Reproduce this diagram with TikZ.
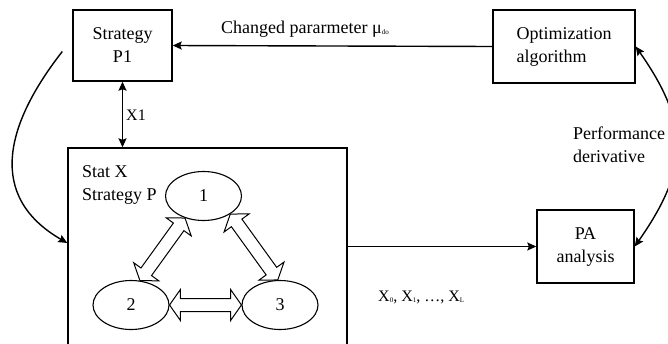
\documentclass[tikz,border=0pt]{standalone}
\usepackage{fontspec}
\setmainfont{Liberation Serif}
\usetikzlibrary{shapes.geometric,shapes.arrows,arrows.meta,calc}
\newcommand{\sbs}[1]{\raisebox{-1.5pt}{\fontsize{7}{7}\selectfont #1}}
\begin{document}
\begin{tikzpicture}[x=1pt,y=1pt,
  font=\fontsize{18}{23}\selectfont,
  box/.style={draw, line width=1.4pt, inner sep=0pt},
  conn/.style={line width=1.4pt},
  tip/.style={-{Stealth[length=9pt,width=8pt,inset=1.5pt]}},
  dtip/.style={{Stealth[length=9pt,width=8pt,inset=1.5pt]}-{Stealth[length=9pt,width=8pt,inset=1.5pt]}},
  txt/.style={inner sep=0pt},
  st/.style={ellipse, draw, line width=1.1pt, minimum width=76pt, minimum height=49pt, inner sep=0pt},
  dblarr/.style={double arrow, draw, line width=1pt, fill=white, inner xsep=0pt, inner ysep=6pt,
    text height=0pt, text depth=0pt, text width=0pt, double arrow head extend=9pt,
    double arrow tip angle=110}
]
\clip (0,0) rectangle (668,-343);
% boxes
\node[box, minimum width=99pt, minimum height=71pt, align=center] (p1) at (122.5,-45.5) {Strategy\\P1};
\node[box, minimum width=142pt, minimum height=73pt, align=left] (opt) at (564,-46.5) {Optimization\\algorithm};
\node[box, minimum width=97pt, minimum height=73pt, align=center] (pa) at (585.5,-246.5) {PA\\analysis};
\node[box, minimum width=279pt, minimum height=230pt] (big) at (207.5,-263) {};
\node[txt, anchor=west, align=left] (sx) at (82,-185) {Stat X\\Strategy P};
% states
\node[st] (e1) at (203.5,-196) {1};
\node[st] (e2) at (131,-305) {2};
\node[st] (e3) at (280,-305) {3};
% hollow double arrows
\path let \p1=(e1.230), \p2=(e2.70), \n1={atan2(\y1-\y2,\x1-\x2)}, \n2={veclen(\x1-\x2,\y1-\y2)} in
  node[dblarr, minimum height=\n2, rotate=\n1] (a12) at ($(\p1)!0.5!(\p2)$) {};
\path let \p1=(e1.326), \p2=(e3.95), \n1={atan2(\y1-\y2,\x1-\x2)}, \n2={veclen(\x1-\x2,\y1-\y2)} in
  node[dblarr, minimum height=\n2, rotate=\n1] (a13) at ($(\p1)!0.5!(\p2)$) {};
\path let \p1=(e2.east), \p2=(e3.west), \n1={atan2(\y1-\y2,\x1-\x2)}, \n2={veclen(\x1-\x2,\y1-\y2)} in
  node[dblarr, minimum height=\n2, rotate=\n1] (a23) at ($(\p1)!0.5!(\p2)$) {};
% connectors
\draw[conn,tip] (opt.west) -- (p1.east);
\node[txt, anchor=west] (lab) at (221,-29) {Changed pararmeter μ\sbs{do}};
\draw[conn,dtip] (p1.south) -- (p1.south |- big.north);
\node[txt, anchor=west, font=\fontsize{16}{18}\selectfont] (x1) at (126,-115) {X1};
\draw[conn,tip] (big.east |- pa.west) -- (pa.west);
\node[txt, anchor=west, font=\fontsize{16}{18}\selectfont] (xs) at (378,-297) {X\sbs{0}, X\sbs{1}, \dots, X\sbs{L}};
\coordinate (ls) at ($(p1.west)+(-10,-6)$);
\draw[conn,tip] (ls) .. controls +(232:93) and +(150:93) .. ($(big.west |- 0,-243)$);
\draw[conn,dtip] (pa.east) .. controls +(55:95) and +(-55:95) .. (opt.east);
\node[txt, anchor=west, align=left] (perf) at (573,-145) {Performance\\derivative};
\end{tikzpicture}
\end{document}
